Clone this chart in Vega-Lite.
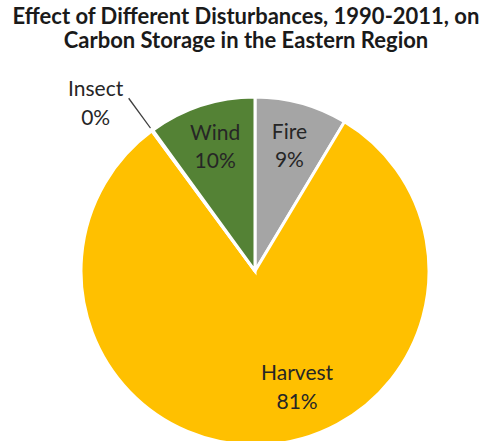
{
  "$schema": "https://vega.github.io/schema/vega-lite/v6.json",
  "autosize": "none",
  "width": 348,
  "height": 348,
  "padding": {"left": 81, "top": 97, "right": 53, "bottom": 0},
  "background": "white",
  "title": {
    "text": ["Effect of Different Disturbances, 1990-2011, on", "Carbon Storage in the Eastern Region"],
    "font": "Lato",
    "fontSize": 22,
    "fontWeight": "bold",
    "color": "#1a1a1a",
    "lineHeight": 24,
    "anchor": "middle",
    "limit": 482,
    "dx": -9,
    "offset": 26
  },
  "data": {
    "values": [
      {"cat": "Fire", "value": 8.6, "label": "Fire\n9%", "ord": 1},
      {"cat": "Harvest", "value": 81.3, "label": "Harvest\n81%", "ord": 2},
      {"cat": "Insect", "value": 0.1, "label": "Insect\n0%", "ord": 3},
      {"cat": "Wind", "value": 10.0, "label": "Wind\n10%", "ord": 4}
    ]
  },
  "transform": [
    {"stack": "value", "groupby": [], "sort": [{"field": "ord", "order": "ascending"}], "as": ["v0", "v1"]},
    {"calculate": "(datum.v0 + datum.v1) / 2", "as": "mid"}
  ],
  "layer": [
    {
      "mark": {"type": "arc", "outerRadius": 174, "stroke": "white", "strokeWidth": 3},
      "encoding": {
        "theta": {"field": "v0", "type": "quantitative", "stack": null, "scale": {"domain": [0, 100]}},
        "theta2": {"field": "v1"},
        "color": {
          "field": "cat", "type": "nominal", "legend": null,
          "scale": {"domain": ["Fire", "Harvest", "Insect", "Wind"], "range": ["#a5a5a5", "#ffc000", "#4472c4", "#548235"]}
        }
      }
    },
    {
      "transform": [{"filter": "datum.cat === 'Insect'"}],
      "mark": {"type": "arc", "innerRadius": 177, "outerRadius": 214, "color": "#404040"},
      "encoding": {
        "theta": {"field": "v0", "type": "quantitative", "stack": null, "scale": {"domain": [0, 100]}},
        "theta2": {"field": "v1"}
      }
    },
    {
      "transform": [{"filter": "datum.cat === 'Fire' || datum.cat === 'Wind'"}],
      "mark": {"type": "text", "radius": 129, "dy": -14, "font": "Lato", "fontSize": 21, "lineBreak": "\n", "lineHeight": 28, "color": "#262626", "baseline": "middle"},
      "encoding": {
        "theta": {"field": "mid", "type": "quantitative", "stack": null, "scale": {"domain": [0, 100]}},
        "text": {"field": "label"}
      }
    },
    {
      "transform": [{"filter": "datum.cat === 'Harvest'"}],
      "mark": {"type": "text", "radius": 129, "dx": 36, "dy": -26, "font": "Lato", "fontSize": 21, "lineBreak": "\n", "lineHeight": 29, "color": "#262626", "baseline": "middle"},
      "encoding": {
        "theta": {"field": "mid", "type": "quantitative", "stack": null, "scale": {"domain": [0, 100]}},
        "text": {"field": "label"}
      }
    },
    {
      "transform": [{"filter": "datum.cat === 'Insect'"}],
      "mark": {"type": "text", "radius": 231, "dx": -23, "dy": 5, "font": "Lato", "fontSize": 21, "lineBreak": "\n", "lineHeight": 29, "color": "#262626", "baseline": "middle"},
      "encoding": {
        "theta": {"field": "mid", "type": "quantitative", "stack": null, "scale": {"domain": [0, 100]}},
        "text": {"field": "label"}
      }
    }
  ]
}
